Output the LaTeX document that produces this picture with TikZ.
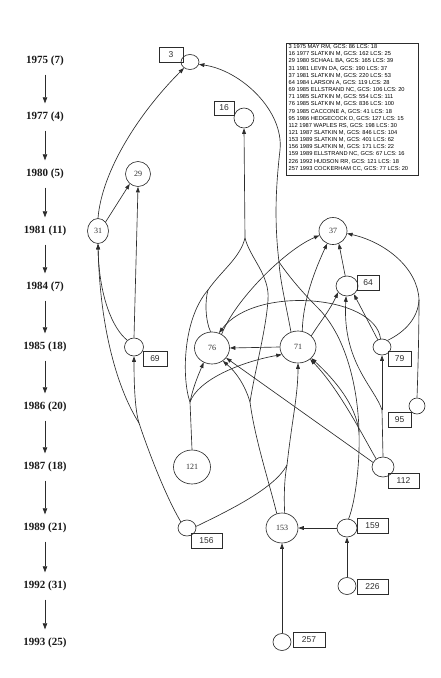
\documentclass[tikz,border=0pt]{standalone}
\usepackage{fontspec}
\setmainfont{Liberation Serif}
\newfontfamily\arialf{Liberation Sans}
\usetikzlibrary{arrows.meta,shapes.geometric}
\definecolor{inkc}{HTML}{2C2C2C}
\begin{document}
\begin{tikzpicture}[x=1pt,y=-1pt,
  ink/.style={draw=inkc, line width=0.65pt},
  nd/.style 2 args={ellipse, ink, inner sep=0pt, minimum width=#1, minimum height=#2, font=\fontsize{8}{9}\selectfont, text=inkc},
  bx/.style={rectangle, ink, inner sep=0pt, minimum width=#1, minimum height=15pt, font=\arialf\fontsize{8.5}{9}\selectfont, text=inkc},
  yr/.style={inner sep=0pt, font=\bfseries\fontsize{11}{12}\selectfont, text=black!90},
  tl/.style={ink, line width=0.7pt, -{Triangle[length=6pt,width=4.5pt]}, shorten <=8.5pt, shorten >=8.5pt},
  ar/.style={ink, -{Triangle[length=5.5pt,width=3.8pt]}},
  ln/.style={ink}]
\useasboundingbox (0,0) rectangle (440,678);

% timeline
\node[yr] (t1) at (45,61) {1975 (7)};
\node[yr] (t2) at (45,117) {1977 (4)};
\node[yr] (t3) at (45,174) {1980 (5)};
\node[yr] (t4) at (45,231) {1981 (11)};
\node[yr] (t5) at (45,287) {1984 (7)};
\node[yr] (t6) at (45,347) {1985 (18)};
\node[yr] (t7) at (45,407) {1986 (20)};
\node[yr] (t8) at (45,467) {1987 (18)};
\node[yr] (t9) at (45,528) {1989 (21)};
\node[yr] (t10) at (45,586) {1992 (31)};
\node[yr] (t11) at (45,643) {1993 (25)};
\draw[tl] (t1) -- (t2);
\draw[tl] (t2) -- (t3);
\draw[tl] (t3) -- (t4);
\draw[tl] (t4) -- (t5);
\draw[tl] (t5) -- (t6);
\draw[tl] (t6) -- (t7);
\draw[tl] (t7) -- (t8);
\draw[tl] (t8) -- (t9);
\draw[tl] (t9) -- (t10);
\draw[tl] (t10) -- (t11);

% legend
\node[ink, rectangle, inner sep=0pt, minimum width=132pt, minimum height=132pt, anchor=north west] (legbox) at (286,43) {};
\node[anchor=north west, inner sep=0pt, align=left, text=black, font=\arialf\fontsize{5.7}{7.15}\selectfont] (legtext) at (288.5,44.5) {%
3 1975 MAY RM, GCS: 86 LCS: 18\\
16 1977 SLATKIN M, GCS: 162 LCS: 25\\
29 1980 SCHAAL BA, GCS: 165 LCS: 39\\
31 1981 LEVIN DA, GCS: 190 LCS: 37\\
37 1981 SLATKIN M, GCS: 220 LCS: 53\\
64 1984 LARSON A, GCS: 119 LCS: 28\\
69 1985 ELLSTRAND NC, GCS: 106 LCS: 20\\
71 1985 SLATKIN M, GCS: 554 LCS: 111\\
76 1985 SLATKIN M, GCS: 836 LCS: 100\\
79 1985 CACCONE A, GCS: 41 LCS: 18\\
95 1986 HEDGECOCK D, GCS: 127 LCS: 15\\
112 1987 WAPLES RS, GCS: 198 LCS: 30\\
121 1987 SLATKIN M, GCS: 846 LCS: 104\\
153 1989 SLATKIN M, GCS: 401 LCS: 62\\
156 1989 SLATKIN M, GCS: 171 LCS: 22\\
159 1989 ELLSTRAND NC, GCS: 67 LCS: 16\\
226 1992 HUDSON RR, GCS: 121 LCS: 18\\
257 1993 COCKERHAM CC, GCS: 77 LCS: 20};

% graph nodes
\node[nd={18}{15}] (n3) at (190,62) {};
\node[bx=24] (b3) at (171,55) {3};
\node[nd={20}{20}] (n16) at (244,118) {};
\node[bx=20, minimum height=14pt] (b16) at (224,108) {16};
\node[nd={25}{25}] (n29) at (138,174) {29};
\node[nd={21}{25}] (n31) at (98,231) {31};
\node[nd={28}{27}] (n37) at (333,231) {37};
\node[nd={22}{20}] (n64) at (347,286) {};
\node[bx=22] (b64) at (368,283) {64};
\node[nd={19}{18}] (n69) at (134,347) {};
\node[bx=24] (b69) at (155,358.5) {69};
\node[nd={36}{32}] (n71) at (298,347) {71};
\node[nd={35}{32}] (n76) at (212,348) {76};
\node[nd={18}{16}] (n79) at (382,347) {};
\node[bx=23] (b79) at (399.5,358.5) {79};
\node[nd={16}{16}] (n95) at (417,406) {};
\node[bx=23] (b95) at (399.5,420) {95};
\node[nd={22}{20}] (n112) at (383,467) {};
\node[bx=31] (b112) at (403.5,480.5) {112};
\node[nd={37}{34}] (n121) at (192,467) {121};
\node[nd={32}{30}] (n153) at (282,528) {153};
\node[nd={18}{16}] (n156) at (187,528) {};
\node[bx=31] (b156) at (206.5,540.5) {156};
\node[nd={20}{18}] (n159) at (347,528) {};
\node[bx=31] (b159) at (372.5,525.5) {159};
\node[nd={18}{17}] (n226) at (347,586) {};
\node[bx=31] (b226) at (372.5,586.5) {226};
\node[nd={18}{17}] (n257) at (282,642) {};
\node[bx=32] (b257) at (309,639.5) {257};

% junctions
\coordinate (j3) at (279,262);
\coordinate (j156) at (139,423);
\coordinate (j16) at (245,238);
\coordinate (j16L) at (208,290);
\coordinate (j121) at (190,402);
\coordinate (j153L) at (250,402);
\coordinate (j95) at (419,300);
\coordinate (j112) at (382,410);
\coordinate (j159) at (359,432);
\coordinate (j71B) at (287,465);

% edges
\draw[ar] (n31.north) .. controls (102,170) and (140,112) .. (n3.225);
\draw[ar] (j3) .. controls (274,220) and (276,185) .. (280,150) .. controls (284,110) and (240,70) .. (n3.-15);
\draw[ln] (n71.115) .. controls (285,300) and (280,280) .. (j3);
\draw[ln] (j159) .. controls (358,385) and (345,335) .. (318,308) .. controls (300,290) and (288,275) .. (j3);

\draw[ar] (n31.50) -- (n29.230);
\draw[ar] (n69.north) -- (n29.south);
\draw[ar] (n69.135) .. controls (112,328) and (99,295) .. (n31.south);
\draw[ln] (n156.135) .. controls (165,495) and (148,450) .. (j156);
\draw[ar] (j156) .. controls (135,410) and (134,385) .. (n69.south);
\draw[ar] (j156) .. controls (118,390) and (100,330) .. (n31.south);

\draw[ar] (j16) -- (n16.south);
\draw[ln] (j16) .. controls (240,258) and (222,270) .. (j16L);
\draw[ln] (n76.95) .. controls (205,320) and (205,300) .. (j16L);
\draw[ln] (j121) .. controls (182,380) and (182,320) .. (j16L);
\draw[ln] (j16) .. controls (250,258) and (270,275) .. (268,300) .. controls (266,330) and (255,370) .. (j153L);
\draw[ln] (n121.north) -- (j121);
\draw[ar] (j121) .. controls (193,388) and (197,378) .. (n76.240);
\draw[ar] (j121) .. controls (198,380) and (240,362) .. (n71.205);
\draw[ln] (n153.110) .. controls (270,485) and (255,440) .. (j153L);
\draw[ar] (j153L) .. controls (245,385) and (236,372) .. (n76.-50);

\draw[ar] (n71.west) -- (n76.east);
\draw[ar] (n76.55) .. controls (235,300) and (285,250) .. (n37.198);
\draw[ar] (n71.75) .. controls (303,300) and (315,270) .. (n37.245);
\draw[ar] (n64.100) -- (n37.295);
\draw[ar] (j95) .. controls (418,268) and (385,242) .. (n37.-10);
\draw[ln] (n95.north) .. controls (418,370) and (419,330) .. (j95);
\draw[ln] (n79.50) .. controls (405,332) and (418,318) .. (j95);
\draw[ar] (n71.40) .. controls (320,322) and (330,310) .. (n64.215);
\draw[ar] (n79.120) -- (n64.-50);
\draw[ar] (n79.100) .. controls (375,295) and (255,285) .. (n76.65);

\draw[ln] (n112.north) -- (j112);
\draw[ar] (j112) -- (n79.south);
\draw[ar] (j112) .. controls (375,388) and (342,362) .. (n64.-95);
\draw[ar] (n112.155) -- (n76.-35);
\draw[ar] (n112.130) .. controls (365,440) and (340,390) .. (n71.-45);
\draw[ln] (n159.80) .. controls (356,500) and (360,460) .. (j159);
\draw[ar] (j159) .. controls (356,405) and (335,380) .. (n71.-40);

\draw[ar] (j71B) .. controls (292,420) and (298,395) .. (n71.south);
\draw[ln] (n153.80) .. controls (284,500) and (284,480) .. (j71B);
\draw[ln] (n156.10) .. controls (230,510) and (275,488) .. (j71B);

\draw[ar] (n159.west) -- (n153.east);
\draw[ar] (n226.north) -- (n159.south);
\draw[ar] (n257.north) -- (n153.south);
\end{tikzpicture}
\end{document}
